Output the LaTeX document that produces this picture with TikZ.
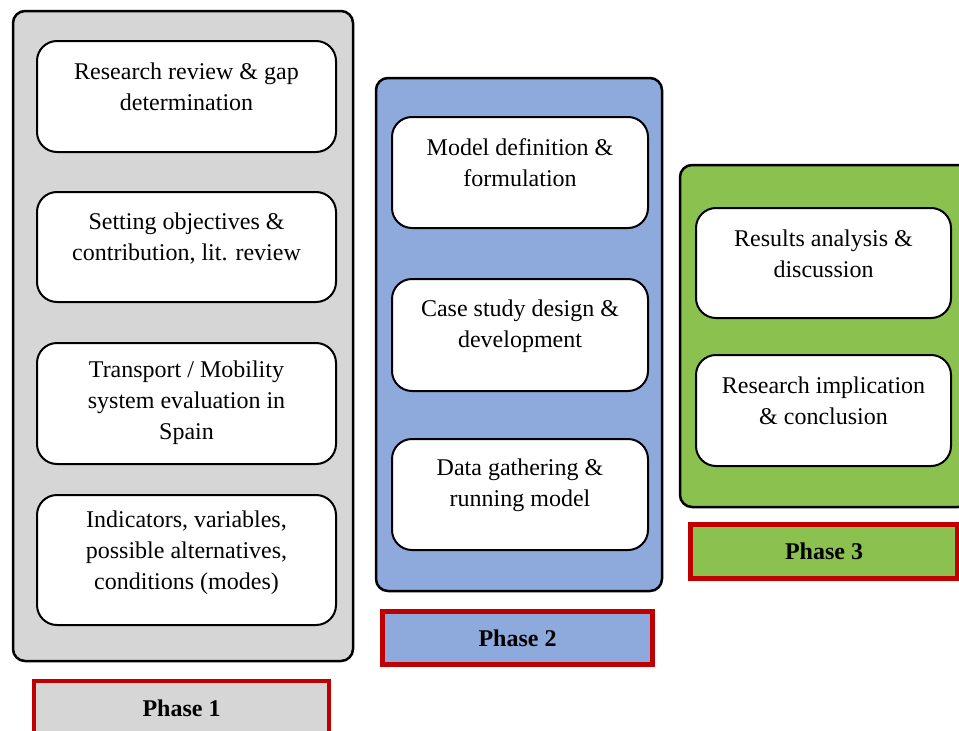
\documentclass[tikz,border=0pt]{standalone}
\usepackage{fontspec}
\setmainfont{Liberation Serif}
\definecolor{panelgray}{HTML}{D6D6D6}
\definecolor{panelblue}{HTML}{8EA9DB}
\definecolor{panelgreen}{HTML}{8BC14E}
\definecolor{labelred}{HTML}{C00000}
\begin{document}
\begin{tikzpicture}[x=1pt,y=-1pt,
  panel/.style={draw=black,line width=2.5pt,rounded corners=12pt,inner sep=0pt,outer sep=0pt},
  stepbox/.style={draw=black,fill=white,line width=2pt,rounded corners=20pt,inner sep=0pt,outer sep=0pt},
  txt/.style={align=center,inner sep=0pt,font=\fontsize{24}{31}\selectfont},
  phaselabel/.style={draw=labelred,line width=4.5pt,inner sep=0pt,outer sep=0pt,
    font=\fontsize{24}{28}\selectfont\bfseries}
]
\useasboundingbox (0,0) rectangle (959,731);

% Phase 1 column
\node[panel,fill=panelgray,minimum width=340pt,minimum height=650pt] (p1) at (183,336) {};
\node[stepbox,minimum width=299pt,minimum height=111pt] (a1) at (186.5,96.5) {};
\node[stepbox,minimum width=299pt,minimum height=110pt] (a2) at (186.5,247) {};
\node[stepbox,minimum width=299pt,minimum height=121pt] (a3) at (186.5,403.5) {};
\node[stepbox,minimum width=299pt,minimum height=130pt] (a4) at (186.5,560) {};
\node[txt] (ta1) at (186.5,87) {Research review \& gap\\determination};
\node[txt] (ta2) at (186.5,238.5) {Setting objectives \&\\contribution, lit. review};
\node[txt] (ta3) at (186.5,403) {Transport / Mobility\\system evaluation in\\Spain};
\node[txt] (ta4) at (186.5,553) {Indicators, variables,\\possible alternatives,\\conditions (modes)};
% this label runs on below the lower edge of the page
\node[phaselabel,fill=panelgray,minimum width=295pt,minimum height=60pt] (l1) at (181.5,711) {\raisebox{5pt}{Phase 1}};

% Phase 2 column
\node[panel,fill=panelblue,minimum width=286pt,minimum height=513pt] (p2) at (519,334.5) {};
\node[stepbox,minimum width=256pt,minimum height=111pt] (b1) at (520,172.5) {};
\node[stepbox,minimum width=256pt,minimum height=112pt] (b2) at (520,335) {};
\node[stepbox,minimum width=256pt,minimum height=111pt] (b3) at (520,494.5) {};
\node[txt] (tb1) at (520,163) {Model definition \&\\formulation};
\node[txt] (tb2) at (520,326.5) {Case study design \&\\development};
\node[txt] (tb3) at (520,485) {Data gathering \&\\running model};
\node[phaselabel,fill=panelblue,minimum width=270pt,minimum height=53pt] (l2) at (517.5,638) {Phase 2};

% Phase 3 column
\node[panel,fill=panelgreen,minimum width=290pt,minimum height=342pt] (p3) at (825,336) {};
\node[stepbox,minimum width=255pt,minimum height=110pt] (c1) at (823.5,263) {};
\node[stepbox,minimum width=255pt,minimum height=111pt] (c2) at (823.5,410.5) {};
\node[txt] (tc1) at (823.5,253.5) {Results analysis \&\\discussion};
\node[txt] (tc2) at (823.5,401) {Research implication\\\& conclusion};
\node[phaselabel,fill=panelgreen,minimum width=267pt,minimum height=54pt] (l3) at (824,551.5) {Phase 3};
\end{tikzpicture}
\end{document}
